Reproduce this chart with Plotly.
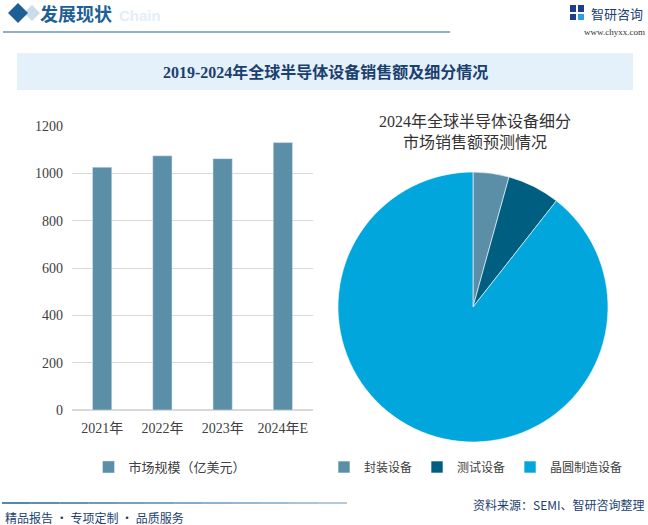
import plotly.graph_objects as go

W, H = 648, 525

# bar data (亿美元)
years = ["2021年", "2022年", "2023年", "2024年E"]
market_size = [1026, 1074, 1062, 1130]

# pie data, 2024 split (%)
segments = ["封装设备", "测试设备", "晶圆制造设备"]
segment_share = [4.3, 6.3, 89.4]

COLOR_BAR = "#5b8fa8"
PIE_COLORS = ["#5b8fa8", "#005f80", "#00a6dc"]
NAVY = "#1b3f6e"
HEAD_BLUE = "#1e5f95"
CJK = "Noto Sans CJK SC"
SERIF = "Liberation Serif, Noto Sans CJK SC"


def px(x):
    return x / W


def py(y):
    return 1 - y / H


fig = go.Figure()

fig.add_trace(go.Bar(
    x=years, y=market_size, name="市场规模（亿美元）",
    marker_color=COLOR_BAR, width=0.32, legend="legend",
))

fig.add_trace(go.Pie(
    labels=segments, values=segment_share, sort=False, direction="clockwise",
    rotation=0, marker=dict(colors=PIE_COLORS, line=dict(color="white", width=0.6)),
    textinfo="none", hoverinfo="label+percent",
    domain=dict(x=[px(338), px(608)], y=[py(442), py(172)]),
    legend="legend2",
))

shapes = [
    # header diamonds
    dict(type="path", path=f"M {px(24)} {py(13)} L {px(32)} {py(5)} L {px(40)} {py(13)} L {px(32)} {py(21)} Z",
         fillcolor="#c9dcea", line=dict(width=0)),
    dict(type="path", path=f"M {px(8)} {py(13)} L {px(18)} {py(3)} L {px(28)} {py(13)} L {px(18)} {py(23)} Z",
         fillcolor=HEAD_BLUE, line=dict(width=0)),
    # header rule
    dict(type="line", x0=px(3), x1=px(450), y0=py(32), y1=py(32),
         line=dict(color=HEAD_BLUE, width=1.2)),
    # title banner
    dict(type="rect", x0=px(17), x1=px(633), y0=py(90), y1=py(53),
         fillcolor="#e5f1fa", line=dict(width=0), layer="below"),
    # logo blocks
    dict(type="rect", x0=px(570), x1=px(576), y0=py(12), y1=py(5), fillcolor="#1b3f8a", line=dict(width=0)),
    dict(type="rect", x0=px(578), x1=px(584), y0=py(12), y1=py(5), fillcolor="#1b3f8a", line=dict(width=0)),
    dict(type="rect", x0=px(570), x1=px(576), y0=py(20), y1=py(14), fillcolor="#1b3f8a", line=dict(width=0)),
    dict(type="rect", x0=px(578), x1=px(584), y0=py(20), y1=py(14), fillcolor="#2aa0e0", line=dict(width=0)),
]

# footer rule, fading towards the right
n_seg = 12
for i in range(n_seg):
    x0 = 2 + i * (345 / n_seg)
    x1 = 2 + (i + 1) * (345 / n_seg)
    a = 1 - i * 0.05
    shapes.append(dict(type="line", x0=px(x0), x1=px(x1), y0=py(503), y1=py(503),
                       line=dict(color=f"rgba(30,95,149,{a:.2f})", width=1.5)))

for s in shapes:
    s["xref"] = "paper"
    s["yref"] = "paper"

annotations = [
    dict(text="<b>Chain</b>", x=px(117), y=py(16), xanchor="left", yanchor="middle",
         font=dict(family="Liberation Sans", size=15, color="#e3eef7")),
    dict(text="<b>发展现状</b>", x=px(38), y=py(13), xanchor="left", yanchor="middle",
         font=dict(family=CJK, size=18, color=HEAD_BLUE)),
    dict(text="智研咨询", x=px(589), y=py(13), xanchor="left", yanchor="middle",
         font=dict(family=CJK, size=13, color="#1b3f6e")),
    dict(text="www.chyxx.com", x=px(647), y=py(32), xanchor="right", yanchor="middle",
         font=dict(family="Liberation Serif", size=9, color="#333333")),
    dict(text="<b>2019-2024年全球半导体设备销售额及细分情况</b>", x=px(325), y=py(72),
         xanchor="center", yanchor="middle",
         font=dict(family=SERIF, size=16, color=NAVY)),
    dict(text="2024年全球半导体设备细分<br>市场销售额预测情况", x=px(475), y=py(132),
         xanchor="center", yanchor="middle",
         font=dict(family=SERIF, size=16, color="#333333")),
    dict(text="资料来源：SEMI、智研咨询整理", x=px(646), y=py(504), xanchor="right", yanchor="middle",
         font=dict(family=CJK, size=12, color=NAVY)),
    dict(text="精品报告 · 专项定制 · 品质服务", x=px(3), y=py(517), xanchor="left", yanchor="middle",
         font=dict(family=CJK, size=12, color=NAVY)),
]
for a in annotations:
    a["xref"] = "paper"
    a["yref"] = "paper"
    a["showarrow"] = False

fig.update_layout(
    width=W, height=H,
    margin=dict(l=0, r=0, t=0, b=0, autoexpand=False),
    paper_bgcolor="white", plot_bgcolor="white",
    font=dict(family=SERIF, size=13, color="#404040"),
    shapes=shapes, annotations=annotations,
    xaxis=dict(domain=[px(72), px(313)], showgrid=False, showline=False, ticks="",
               tickangle=0, ticklabelstandoff=8,
               tickfont=dict(family=SERIF, size=14, color="#404040")),
    yaxis=dict(domain=[py(410), py(126)], range=[0, 1200], dtick=200, showgrid=True,
               gridcolor="#d9d9d9", gridwidth=1, zeroline=True, zerolinecolor="#d9d9d9",
               showline=False, ticks="", ticklabelstandoff=8,
               tickfont=dict(family=SERIF, size=14, color="#404040")),
    legend=dict(orientation="h", x=px(170), y=py(467), xanchor="center", yanchor="middle",
                font=dict(family=CJK, size=13, color="#404040"), bgcolor="rgba(0,0,0,0)",
                itemwidth=30),
    legend2=dict(orientation="h", x=px(476), y=py(467), xanchor="center", yanchor="middle",
                 font=dict(family=CJK, size=12, color="#404040"), bgcolor="rgba(0,0,0,0)",
                 itemwidth=30),
    showlegend=True,
)

page_fix = (
    "document.documentElement.style.margin='0';"
    "document.documentElement.style.overflow='hidden';"
    "document.body.style.margin='0';"
    "document.body.style.padding='0';"
    "document.body.style.overflow='hidden';"
)
fig.write_html("out.html", config={"displayModeBar": False}, post_script=page_fix)
